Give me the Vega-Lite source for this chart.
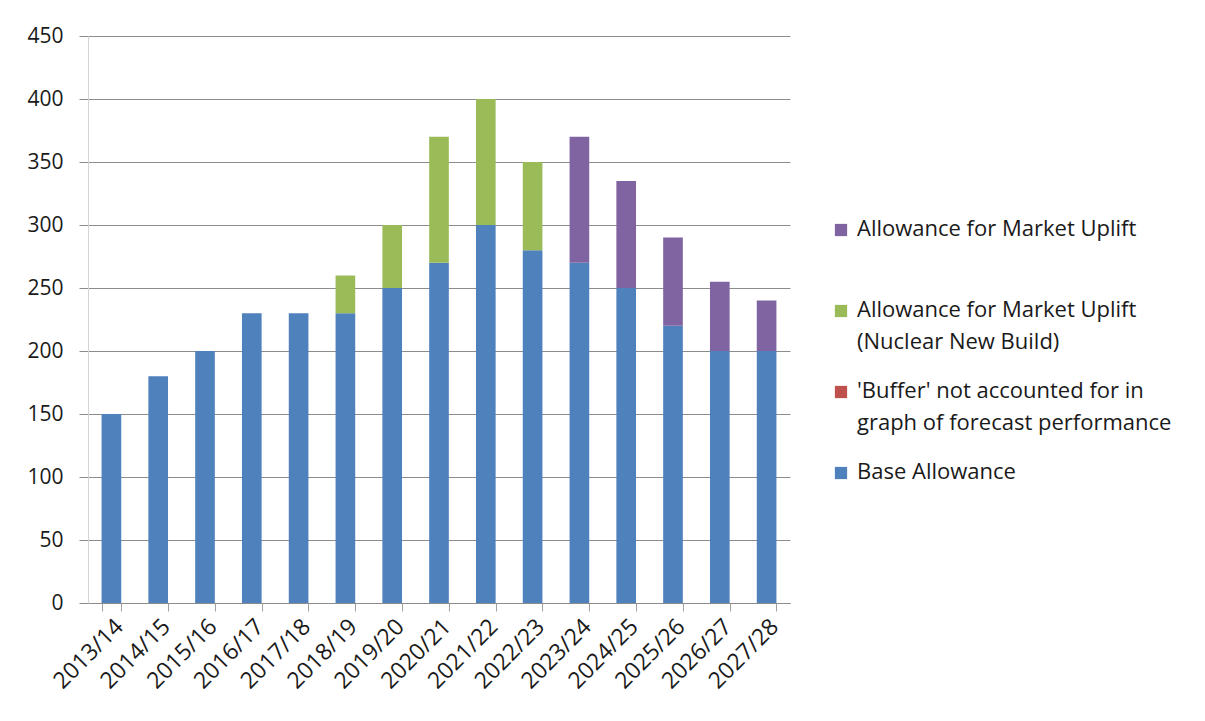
{
  "$schema": "https://vega.github.io/schema/vega-lite/v6.json",
  "autosize": {"type": "none"},
  "padding": {"left": 88, "top": 36, "right": 415, "bottom": 118},
  "width": 702,
  "height": 567,
  "background": "white",
  "config": {
    "font": "Open Sans",
    "view": {"stroke": null}
  },
  "data": {
    "values": [
      {"year": "2013/14", "series": "Base Allowance", "value": 150},
      {"year": "2014/15", "series": "Base Allowance", "value": 180},
      {"year": "2015/16", "series": "Base Allowance", "value": 200},
      {"year": "2016/17", "series": "Base Allowance", "value": 230},
      {"year": "2017/18", "series": "Base Allowance", "value": 230},
      {"year": "2018/19", "series": "Base Allowance", "value": 230},
      {"year": "2018/19", "series": "Allowance for Market Uplift (Nuclear New Build)", "value": 30},
      {"year": "2019/20", "series": "Base Allowance", "value": 250},
      {"year": "2019/20", "series": "Allowance for Market Uplift (Nuclear New Build)", "value": 50},
      {"year": "2020/21", "series": "Base Allowance", "value": 270},
      {"year": "2020/21", "series": "Allowance for Market Uplift (Nuclear New Build)", "value": 100},
      {"year": "2021/22", "series": "Base Allowance", "value": 300},
      {"year": "2021/22", "series": "Allowance for Market Uplift (Nuclear New Build)", "value": 100},
      {"year": "2022/23", "series": "Base Allowance", "value": 280},
      {"year": "2022/23", "series": "Allowance for Market Uplift (Nuclear New Build)", "value": 70},
      {"year": "2023/24", "series": "Base Allowance", "value": 270},
      {"year": "2023/24", "series": "Allowance for Market Uplift", "value": 100},
      {"year": "2024/25", "series": "Base Allowance", "value": 250},
      {"year": "2024/25", "series": "Allowance for Market Uplift", "value": 85},
      {"year": "2025/26", "series": "Base Allowance", "value": 220},
      {"year": "2025/26", "series": "Allowance for Market Uplift", "value": 70},
      {"year": "2026/27", "series": "Base Allowance", "value": 200},
      {"year": "2026/27", "series": "Allowance for Market Uplift", "value": 55},
      {"year": "2027/28", "series": "Base Allowance", "value": 200},
      {"year": "2027/28", "series": "Allowance for Market Uplift", "value": 40}
    ]
  },
  "mark": {"type": "bar"},
  "encoding": {
    "x": {
      "field": "year",
      "type": "nominal",
      "sort": null,
      "scale": {"paddingInner": 0.58, "paddingOuter": 0.29},
      "axis": {
        "title": null,
        "labelAngle": -45,
        "labelFontSize": 23,
        "labelColor": "#1a1a1a",
        "labelPadding": 4,
        "domainColor": "#8c8c8c",
        "tickColor": "#a0a0a0",
        "tickSize": 8,
        "tickBand": "extent",
        "grid": false
      }
    },
    "y": {
      "field": "value",
      "type": "quantitative",
      "aggregate": "sum",
      "stack": "zero",
      "scale": {"domain": [0, 450], "nice": false},
      "axis": {
        "title": null,
        "values": [0, 50, 100, 150, 200, 250, 300, 350, 400, 450],
        "labelFontSize": 21,
        "labelColor": "#1a1a1a",
        "labelPadding": 16,
        "domainColor": "#d4d4d4",
        "tickColor": "#8c8c8c",
        "tickSize": 9,
        "gridColor": "#8c8c8c",
        "gridWidth": 1
      }
    },
    "color": {
      "field": "series",
      "type": "nominal",
      "scale": {
        "domain": [
          "Allowance for Market Uplift",
          "Allowance for Market Uplift (Nuclear New Build)",
          "'Buffer' not accounted for in graph of forecast performance",
          "Base Allowance"
        ],
        "range": ["#8064A2", "#9BBB59", "#C0504D", "#4F81BD"]
      },
      "legend": {
        "title": null,
        "orient": "none",
        "legendX": 742,
        "legendY": 183,
        "gridAlign": "all",
        "rowPadding": 27,
        "symbolType": "square",
        "symbolSize": 150,
        "symbolStrokeWidth": 0,
        "labelFontSize": 22,
        "labelColor": "#1a1a1a",
        "labelOffset": 5,
        "labelLimit": 400,
        "labelBaseline": "top",
        "labelExpr": "datum.value == 'Allowance for Market Uplift (Nuclear New Build)' ? ['Allowance for Market Uplift', '(Nuclear New Build)'] : datum.value == \"'Buffer' not accounted for in graph of forecast performance\" ? [\" 'Buffer' not accounted for in\", 'graph of forecast performance'] : datum.value",
        "encode": {"labels": {"update": {"dy": {"value": -11}, "lineHeight": {"value": 32}}}}
      }
    },
    "order": {"field": "series", "sort": "descending"}
  }
}
